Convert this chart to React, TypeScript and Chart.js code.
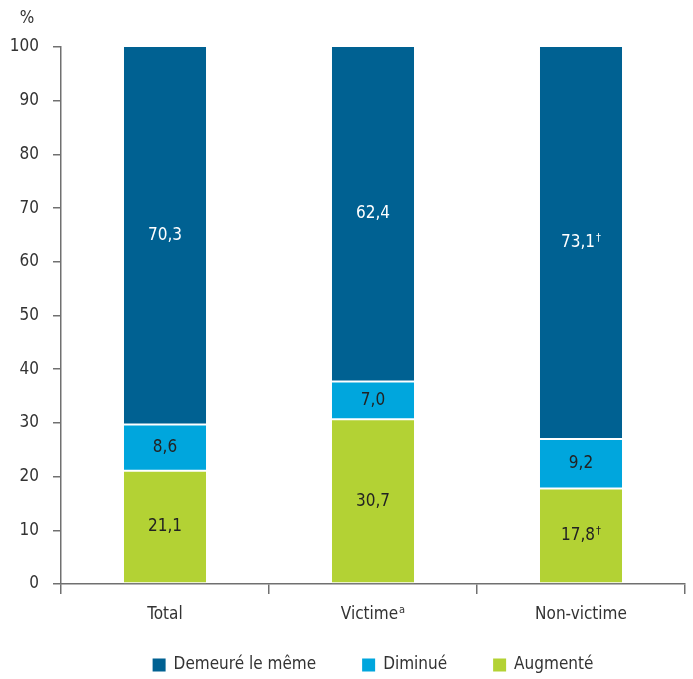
import React, { useEffect, useRef } from "react";
import { Chart, registerables } from "chart.js";

Chart.register(...registerables);

const categories = ["Total", "Victime", "Non-victime"];
const categorySup = ["", "a", ""];
const augmente = [21.1, 30.7, 17.8];
const diminue = [8.6, 7.0, 9.2];
const demeure = [70.3, 62.4, 73.1];
const augmenteMarks = ["", "", "†"];
const diminueMarks = ["", "", ""];
const demeureMarks = ["", "", "†"];
const yTicks = [0, 10, 20, 30, 40, 50, 60, 70, 80, 90, 100];
const legendOrder = [2, 1, 0];

const FONT = "'Liberation Sans Narrow', 'DejaVu Sans Condensed', 'Liberation Sans', sans-serif";
const TEXT = "#333333";
const AXIS = "#707070";

function fmt(v: number) {
  return v.toFixed(1).replace(".", ",");
}

const labelPlugin = {
  id: "customLabels",
  afterDatasetsDraw(chart: any) {
    const ctx = chart.ctx;
    const marks = [augmenteMarks, diminueMarks, demeureMarks];
    const colors = ["#222222", "#222222", "#ffffff"];
    chart.data.datasets.forEach((ds: any, di: number) => {
      const meta = chart.getDatasetMeta(di);
      meta.data.forEach((bar: any, i: number) => {
        const v = ds.data[i];
        const main = fmt(v);
        const sup = marks[di][i];
        const yc = (bar.y + bar.base) / 2;
        ctx.save();
        ctx.fillStyle = colors[di];
        ctx.textBaseline = "middle";
        ctx.font = `17px ${FONT}`;
        const w1 = ctx.measureText(main).width;
        ctx.font = `11px ${FONT}`;
        const w2 = sup ? ctx.measureText(sup).width + 1 : 0;
        const x0 = bar.x - (w1 + w2) / 2;
        ctx.textAlign = "left";
        ctx.font = `17px ${FONT}`;
        ctx.fillText(main, x0, yc);
        if (sup) {
          ctx.font = `11px ${FONT}`;
          ctx.fillText(sup, x0 + w1 + 1, yc - 5);
        }
        ctx.restore();
      });
    });
  },
  afterDraw(chart: any) {
    const ctx = chart.ctx;
    const xs = chart.scales.x;
    const area = chart.chartArea;
    ctx.save();
    ctx.fillStyle = TEXT;
    ctx.textBaseline = "middle";
    categories.forEach((c, i) => {
      const x = xs.getPixelForValue(i);
      ctx.font = `17px ${FONT}`;
      const w1 = ctx.measureText(c).width;
      const sup = categorySup[i];
      ctx.font = `11px ${FONT}`;
      const w2 = sup ? ctx.measureText(sup).width + 1 : 0;
      const x0 = x - (w1 + w2) / 2;
      ctx.textAlign = "left";
      ctx.font = `17px ${FONT}`;
      ctx.fillText(c, x0, area.bottom + 31);
      if (sup) {
        ctx.font = `11px ${FONT}`;
        ctx.fillText(sup, x0 + w1 + 1, area.bottom + 26);
      }
    });
    ctx.font = `17px ${FONT}`;
    ctx.textAlign = "center";
    ctx.fillText("%", 27, 19);

    // legend
    const box = 13;
    const gapText = 8;
    const gapItem = 46;
    ctx.font = `17px ${FONT}`;
    const items = legendOrder.map((di) => {
      const ds = chart.data.datasets[di];
      return { text: ds.label, color: ds.backgroundColor, w: ctx.measureText(ds.label).width };
    });
    const total =
      items.reduce((s, it) => s + box + gapText + it.w, 0) + gapItem * (items.length - 1);
    let x = (area.left + area.right) / 2 - total / 2;
    const ly = 665;
    items.forEach((it) => {
      ctx.fillStyle = it.color;
      ctx.fillRect(x, ly - box / 2, box, box);
      ctx.fillStyle = TEXT;
      ctx.textAlign = "left";
      ctx.fillText(it.text, x + box + gapText, ly);
      x += box + gapText + it.w + gapItem;
    });
    ctx.restore();
  },
};

export default function App() {
  const ref = useRef<HTMLCanvasElement | null>(null);
  useEffect(() => {
    if (!ref.current) return;
    const chart = new Chart(ref.current, {
      type: "bar",
      data: {
        labels: categories,
        datasets: [
          {
            label: "Augmenté",
            data: augmente,
            backgroundColor: "#b3d234",
            borderColor: "#ffffff",
            borderWidth: { top: 1, bottom: 1, left: 0, right: 0 },
            borderSkipped: false,
          },
          {
            label: "Diminué",
            data: diminue,
            backgroundColor: "#00a6dd",
            borderColor: "#ffffff",
            borderWidth: { top: 1, bottom: 1, left: 0, right: 0 },
            borderSkipped: false,
          },
          {
            label: "Demeuré le même",
            data: demeure,
            backgroundColor: "#006192",
            borderColor: "#ffffff",
            borderWidth: { top: 0, bottom: 1, left: 0, right: 0 },
            borderSkipped: false,
          },
        ] as any,
      },
      plugins: [labelPlugin],
      options: {
        responsive: false,
        animation: false,
        layout: { padding: { top: 47, right: 8, left: 0, bottom: 51 } },
        datasets: { bar: { categoryPercentage: 1, barPercentage: 0.395 } } as any,
        plugins: {
          tooltip: { enabled: false },
          legend: { display: false },
        },
        scales: {
          x: {
            stacked: true,
            border: { display: true, color: AXIS, width: 1.5 },
            grid: {
              display: true,
              drawOnChartArea: false,
              drawTicks: true,
              tickLength: 10,
              color: AXIS,
              lineWidth: 1.5,
              offset: true,
            },
            ticks: { color: "rgba(0,0,0,0)", font: { family: FONT, size: 17 }, padding: 6 },
            afterFit: (s: any) => {
              s.height = 44;
            },
          },
          y: {
            stacked: true,
            min: 0,
            max: 100,
            afterBuildTicks: (s: any) => {
              s.ticks = yTicks.map((v) => ({ value: v }));
            },
            border: { display: true, color: AXIS, width: 1.5 },
            grid: {
              display: true,
              drawOnChartArea: false,
              drawTicks: true,
              tickLength: 8,
              color: AXIS,
              lineWidth: 1.5,
            },
            ticks: { color: TEXT, font: { family: FONT, size: 17 }, padding: 14 },
            afterFit: (s: any) => {
              s.width = 61;
            },
          },
        },
      } as any,
    });
    return () => chart.destroy();
  }, []);
  return (
    <div style={{ position: "absolute", left: 0, top: 0, width: 693, height: 679 }}>
      <canvas ref={ref} width={693} height={679} />
    </div>
  );
}
